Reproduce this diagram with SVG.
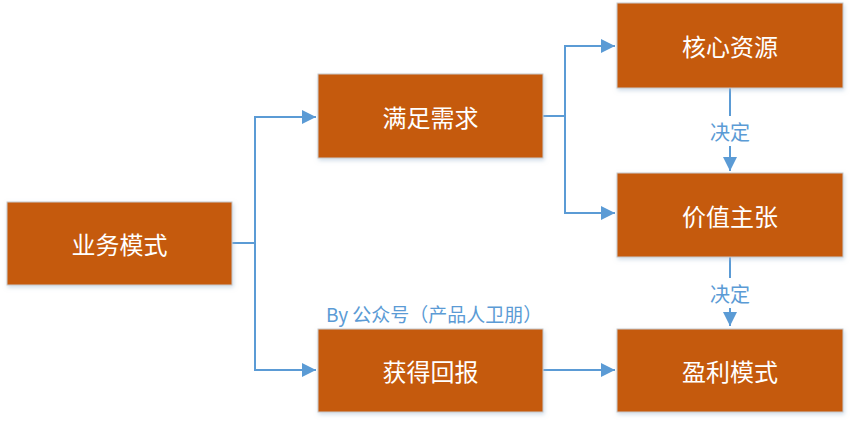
<svg xmlns="http://www.w3.org/2000/svg" width="851" height="424" viewBox="0 0 851 424">
<defs>
<marker id="arr" viewBox="0 0 10 10" refX="10" refY="5" markerWidth="14" markerHeight="14" markerUnits="userSpaceOnUse" orient="auto">
<path d="M0,0 L10,5 L0,10 Z" fill="#5b9bd5"/>
</marker>
<filter id="sh" x="-5%" y="-5%" width="115%" height="120%">
<feDropShadow dx="1" dy="2" stdDeviation="2" flood-color="#9fb7d0" flood-opacity="0.5"/>
</filter>
<style>
.box{fill:#c55a11;stroke:#c9c9c9;stroke-width:1;filter:url(#sh)}
.t{font-family:"Noto Sans CJK SC","Noto Sans",sans-serif;font-size:24px;fill:#ffffff;text-anchor:middle;dominant-baseline:central}
.c{fill:none;stroke:#5b9bd5;stroke-width:2}
.l{font-family:"Noto Sans CJK SC","Noto Sans",sans-serif;font-size:20px;fill:#5b9bd5;text-anchor:middle;dominant-baseline:central}
</style>
</defs>
<rect width="851" height="424" fill="#ffffff"/>
<g id="connectors">
<polyline class="c" points="232,243 255,243"/>
<polyline class="c" points="255,243 255,117 316,117" marker-end="url(#arr)"/>
<polyline class="c" points="255,243 255,370 316,370" marker-end="url(#arr)"/>
<polyline class="c" points="543,116 565,116"/>
<polyline class="c" points="565,116 565,46 615,46" marker-end="url(#arr)"/>
<polyline class="c" points="565,116 565,213 615,213" marker-end="url(#arr)"/>
<line class="c" x1="730" y1="88" x2="730" y2="116"/>
<line class="c" x1="730" y1="146" x2="730" y2="171" marker-end="url(#arr)"/>
<line class="c" x1="730" y1="257" x2="730" y2="278"/>
<line class="c" x1="730" y1="308" x2="730" y2="326" marker-end="url(#arr)"/>
<line class="c" x1="543" y1="370" x2="615" y2="370" marker-end="url(#arr)"/>
<text class="l" x="730" y="131">决定</text>
<text class="l" x="730" y="293">决定</text>
</g>
<g id="n-yewu"><rect class="box" x="7" y="202" width="225" height="83"/><text class="t" x="119.5" y="243">业务模式</text></g>
<g id="n-manzu"><rect class="box" x="318" y="74" width="225" height="84"/><text class="t" x="430.5" y="116">满足需求</text></g>
<g id="n-hexin"><rect class="box" x="617" y="3" width="226" height="85"/><text class="t" x="730" y="45.5">核心资源</text></g>
<g id="n-jiazhi"><rect class="box" x="617" y="173" width="226" height="84"/><text class="t" x="730" y="215">价值主张</text></g>
<g id="n-huode"><rect class="box" x="318" y="329" width="225" height="83"/><text class="t" x="430.5" y="370">获得回报</text></g>
<g id="n-yingli"><rect class="box" x="617" y="329" width="226" height="83"/><text class="t" x="730" y="370">盈利模式</text></g>
<text x="326" y="313" style="font-family:'Noto Sans CJK SC','Noto Sans',sans-serif;font-size:19px;fill:#5b9bd5;dominant-baseline:central">By 公众号（产品人卫朋）</text>
</svg>
